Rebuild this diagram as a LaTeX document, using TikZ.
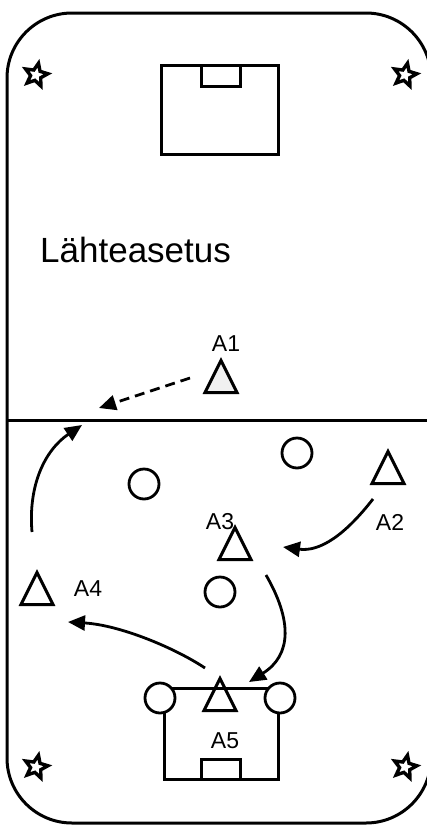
\documentclass[tikz,border=0pt]{standalone}
\usepackage{fontspec}
\setmainfont{Liberation Sans}
\usetikzlibrary{arrows.meta, shapes.geometric}

\begin{document}
\begin{tikzpicture}[x=1pt, y=-1pt,
  line/.style={line width=3pt},
  player/.style={draw, line width=3pt, isosceles triangle,
                 isosceles triangle apex angle=60, isosceles triangle stretches,
                 shape border rotate=90, minimum width=32pt, minimum height=32pt,
                 inner sep=0pt, anchor=lower side},
  ball/.style={draw, circle, line width=2.8pt, fill=white, minimum size=30pt, inner sep=0pt},
  flag/.style={draw, star, star points=5, star point ratio=2.2, line width=3.4pt,
               minimum size=24pt, inner sep=0pt, rotate=-12},
  lbl/.style={font=\fontsize{23}{27}\selectfont, inner sep=0pt, anchor=base},
  arr/.style={-{Triangle[length=17pt, width=15pt]}, line width=2.8pt}]
\useasboundingbox (0,0) rectangle (427,825);
% field
\draw[line, rounded corners=65pt] (7,13) rectangle (431,823);
\draw[line] (7,420) -- (431,420);
% goals
\draw[line] (161,65) rectangle (278,154);
\draw[line] (201,65) rectangle (240,86);
\draw[line] (164,688) rectangle (278,779);
\draw[line] (201,759) rectangle (240,779);
% corner flags
\node[flag] (flagtl) at (36,75) {};
\node[flag] (flagtr) at (405,75) {};
\node[flag] (flagbl) at (36,767) {};
\node[flag] (flagbr) at (405,767) {};
\node[font=\fontsize{35}{40}\selectfont, inner sep=0pt, anchor=base west] (title) at (40,262) {Lähteasetus};
% balls and posts
\node[ball] (ball1) at (144,484) {};
\node[ball] (ball2) at (297,453) {};
\node[ball] (ball3) at (220,592) {};
\node[ball] (postl) at (160,698) {};
\node[ball] (postr) at (280,698) {};
% players
\node[player, fill=gray!12] (p1) at (221,394) {};
\node[player] (p2) at (388,485) {};
\node[player] (p3) at (235,561) {};
\node[player] (p4) at (37,606) {};
\node[player] (p5) at (220,712) {};
\node[lbl] (l1) at (226,351) {A1};
\node[lbl] (l2) at (390,530) {A2};
\node[lbl] (l3) at (220,529) {A3};
\node[lbl] (l4) at (88,596) {A4};
\node[lbl] (l5) at (225,748) {A5};
% runs and passes
\coordinate (run1a) at (190,378);
\coordinate (run1b) at (99,408);
\coordinate (run4a) at (32,532);
\coordinate (run4b) at (82,425);
\coordinate (pass2a) at (373,499);
\coordinate (pass2b) at (283,547);
\coordinate (pass3a) at (266,575);
\coordinate (pass3b) at (249,682);
\coordinate (pass5a) at (205,668);
\coordinate (pass5b) at (68,622);
\draw[arr, dash pattern=on 10pt off 6pt] (run1a) -- (run1b);
\draw[arr] (run4a) .. controls (28,485) and (45,450) .. (run4b);
\draw[arr] (pass2a) .. controls (345,535) and (320,552) .. (pass2b);
\draw[arr] (pass3a) .. controls (292,620) and (292,655) .. (pass3b);
\draw[arr] (pass5a) .. controls (175,648) and (120,625) .. (pass5b);
\end{tikzpicture}
\end{document}
